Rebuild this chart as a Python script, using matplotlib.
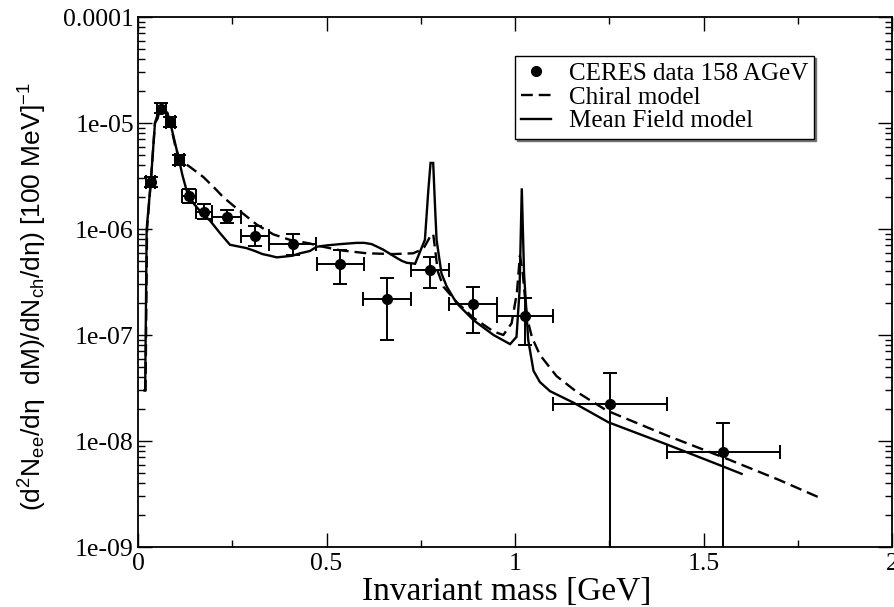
import numpy as np
import matplotlib
matplotlib.use("Agg")
import matplotlib.pyplot as plt
from matplotlib.lines import Line2D

# ---------------- data ----------------
# CERES data 158 AGeV
data_mass = [0.034, 0.062, 0.085, 0.110, 0.136, 0.175, 0.235, 0.310, 0.410,
             0.537, 0.661, 0.775, 0.888, 1.026, 1.252, 1.553]
data_yield = [2.75e-6, 1.37e-5, 1.02e-5, 4.5e-6, 2.05e-6, 1.45e-6, 1.31e-6, 8.6e-7,
              7.2e-7, 4.67e-7, 2.19e-7, 4.07e-7, 1.95e-7, 1.52e-7, 2.22e-8, 7.8e-9]
data_mass_err = [0.012, 0.012, 0.012, 0.012, 0.019, 0.021, 0.038, 0.037, 0.063,
                 0.063, 0.063, 0.050, 0.063, 0.075, 0.152, 0.150]
data_yield_hi = [3.07e-6, 1.53e-5, 1.14e-5, 5.0e-6, 2.39e-6, 1.71e-6, 1.52e-6, 1.07e-6,
                 9.0e-7, 6.3e-7, 3.47e-7, 5.4e-7, 2.86e-7, 2.22e-7, 4.35e-8, 1.47e-8]
data_yield_lo = [2.47e-6, 1.23e-5, 9.2e-6, 4.05e-6, 1.76e-6, 1.23e-6, 1.13e-6, 6.9e-7,
                 5.7e-7, 3.03e-7, 9.0e-8, 2.76e-7, 1.04e-7, 8.05e-8, 1e-10, 1e-10]

# Chiral model (dashed)
chiral_mass = [0.017, 0.020, 0.024, 0.034, 0.045, 0.055, 0.063, 0.068, 0.074, 0.085,
               0.100, 0.111, 0.140, 0.173, 0.200, 0.226, 0.262, 0.315, 0.359, 0.403,
               0.456, 0.474, 0.536, 0.607, 0.677, 0.730, 0.748, 0.760, 0.775, 0.783,
               0.788, 0.795, 0.810, 0.845, 0.890, 0.943, 0.969, 0.991, 1.005, 1.013,
               1.020, 1.031, 1.045, 1.066, 1.110, 1.163, 1.243, 1.402, 1.553, 1.700, 1.805]
chiral_yield = [3e-8, 3e-8, 1e-6, 2.8e-6, 1.0e-5, 1.3e-5, 1.45e-5, 1.45e-5, 1.3e-5, 1.02e-5,
                5.8e-6, 4.5e-6, 3.8e-6, 3.1e-6, 2.5e-6, 2.0e-6, 1.56e-6, 1.1e-6, 8.9e-7, 7.9e-7,
                7.3e-7, 7.0e-7, 6.3e-7, 5.9e-7, 5.8e-7, 5.9e-7, 6.3e-7, 6.8e-7, 8.5e-7, 9.0e-7,
                6.5e-7, 4.0e-7, 2.86e-7, 2.05e-7, 1.45e-7, 1.08e-7, 1.0e-7, 1.29e-7, 2.5e-7, 5.6e-7,
                4.0e-7, 1.5e-7, 9.5e-8, 6.5e-8, 4.1e-8, 2.92e-8, 1.94e-8, 1.13e-8, 7.0e-9, 4.3e-9, 2.95e-9]

# Mean Field model (solid)
mf_mass = [0.017, 0.019, 0.023, 0.034, 0.045, 0.052, 0.058, 0.062, 0.067, 0.072,
           0.078, 0.085, 0.096, 0.107, 0.118, 0.129, 0.147, 0.170, 0.191, 0.218,
           0.244, 0.270, 0.288, 0.310, 0.330, 0.350, 0.368, 0.390, 0.410, 0.430,
           0.456, 0.474, 0.500, 0.536, 0.580, 0.600, 0.620, 0.650, 0.680, 0.700,
           0.713, 0.735, 0.748, 0.761, 0.770, 0.776, 0.783, 0.788, 0.792, 0.805,
           0.819, 0.845, 0.890, 0.943, 0.987, 1.004, 1.012, 1.018, 1.024, 1.035,
           1.049, 1.066, 1.093, 1.155, 1.248, 1.402, 1.544, 1.601]
mf_yield = [3e-8, 3e-8, 1e-6, 2.8e-6, 1.0e-5, 1.1e-5, 1.35e-5, 1.48e-5, 1.42e-5, 1.3e-5,
            1.25e-5, 1.03e-5, 7.0e-6, 4.8e-6, 3.2e-6, 2.3e-6, 1.75e-6, 1.4e-6, 1.2e-6, 9.1e-7,
            7.1e-7, 6.8e-7, 6.6e-7, 6.2e-7, 5.8e-7, 5.6e-7, 5.4e-7, 5.5e-7, 5.6e-7, 5.9e-7,
            6.2e-7, 6.8e-7, 7.0e-7, 7.2e-7, 7.4e-7, 7.4e-7, 7.2e-7, 6.4e-7, 5.5e-7, 5.0e-7,
            4.8e-7, 4.7e-7, 6.1e-7, 7.9e-7, 2.3e-6, 4.2e-6, 4.2e-6, 1.6e-6, 7.9e-7, 3.8e-7,
            2.86e-7, 2.0e-7, 1.38e-7, 1.0e-7, 8.2e-8, 9.6e-8, 2.6e-7, 2.42e-6, 3.8e-7, 9.0e-8,
            4.6e-8, 3.6e-8, 2.95e-8, 2.3e-8, 1.5e-8, 9.3e-9, 5.9e-9, 4.9e-9]

legend_labels = ["CERES data 158 AGeV", "Chiral model", "Mean Field model"]
x_ticks = [0, 0.5, 1, 1.5, 2]
x_tick_labels = ["0", "0.5", "1", "1.5", "2"]
y_ticks = [1e-9, 1e-8, 1e-7, 1e-6, 1e-5, 1e-4]
y_tick_labels = ["1e-09", "1e-08", "1e-07", "1e-06", "1e-05", "0.0001"]

# ---------------- plot ----------------
plt.rcParams['mathtext.fontset'] = 'custom'
plt.rcParams['mathtext.rm'] = 'Liberation Sans'
plt.rcParams['mathtext.it'] = 'Liberation Sans:italic'

fig = plt.figure(figsize=(8.94, 6.07), dpi=100)
ax = fig.add_axes([138/894, 60/607, 754/894, 530/607])

ax.plot(mf_mass, mf_yield, color='black', lw=1.7, solid_joinstyle='miter')
ax.plot(chiral_mass, chiral_yield, color='black', lw=1.7, ls=(0, (5, 2.5)))

dm = np.array(data_mass)
dy = np.array(data_yield)
yerr = [dy - np.array(data_yield_lo), np.array(data_yield_hi) - dy]
ax.errorbar(dm, dy, xerr=data_mass_err, yerr=yerr, fmt='none', ecolor='black',
            elinewidth=1.4, capsize=5, capthick=1.4, zorder=3)
ax.plot(dm, dy, 'o', color='black', ms=7, zorder=4)

ax.set_yscale('log')
ax.set_xlim(0, 2)
ax.set_ylim(1e-9, 1e-4)

serif = 'Liberation Serif'
ax.set_xticks(x_ticks)
ax.set_xticklabels(x_tick_labels, fontfamily=serif, fontsize=18.5)
ax.set_xticks([0.25, 0.75, 1.25, 1.75], minor=True)
ax.set_yticks(y_ticks)
ax.set_yticklabels(y_tick_labels, fontfamily=serif, fontsize=18.5)
ax.yaxis.set_minor_locator(matplotlib.ticker.LogLocator(base=10, subs=np.arange(2, 10)))
ax.yaxis.set_minor_formatter(matplotlib.ticker.NullFormatter())
ax.tick_params(which='both', direction='in', top=True, right=True, width=1.0)
ax.tick_params(which='major', length=10)
ax.tick_params(axis='x', which='major', pad=4)
ax.tick_params(axis='y', which='major', pad=3)
ax.tick_params(which='minor', length=5)
for s in ax.spines.values():
    s.set_linewidth(1.3)

ax.set_xlabel("Invariant mass [GeV]", fontfamily=serif, fontsize=24)
ax.xaxis.set_label_coords(0.489, -0.056)
ax.set_ylabel(r"(d$^{\mathrm{2}}$N$_{\mathrm{ee}}$/dη  dM)/dN$_{\mathrm{ch}}$/dη) [100 MeV]$^{\mathrm{-1}}$",
              fontfamily='Liberation Sans', fontsize=19)
ax.yaxis.set_label_coords(-0.118, 0.472)

handles = [Line2D([], [], color='black', marker='o', ls='none', ms=7),
           Line2D([], [], color='black', lw=1.7, ls=(0, (5, 2.5))),
           Line2D([], [], color='black', lw=1.7)]
leg = ax.legend(handles, legend_labels, loc='upper left', bbox_to_anchor=(0.5, 0.926),
                borderaxespad=0, prop={'family': serif, 'size': 18}, frameon=True,
                fancybox=False, edgecolor='black', handlelength=1.2, handletextpad=0.7,
                labelspacing=0.05, borderpad=0.25,
                shadow={'ox': 1.5, 'oy': -1.5, 'color': '0.45', 'alpha': 1})
leg.get_frame().set_linewidth(1.0)

fig.savefig("out.png", dpi=100)
